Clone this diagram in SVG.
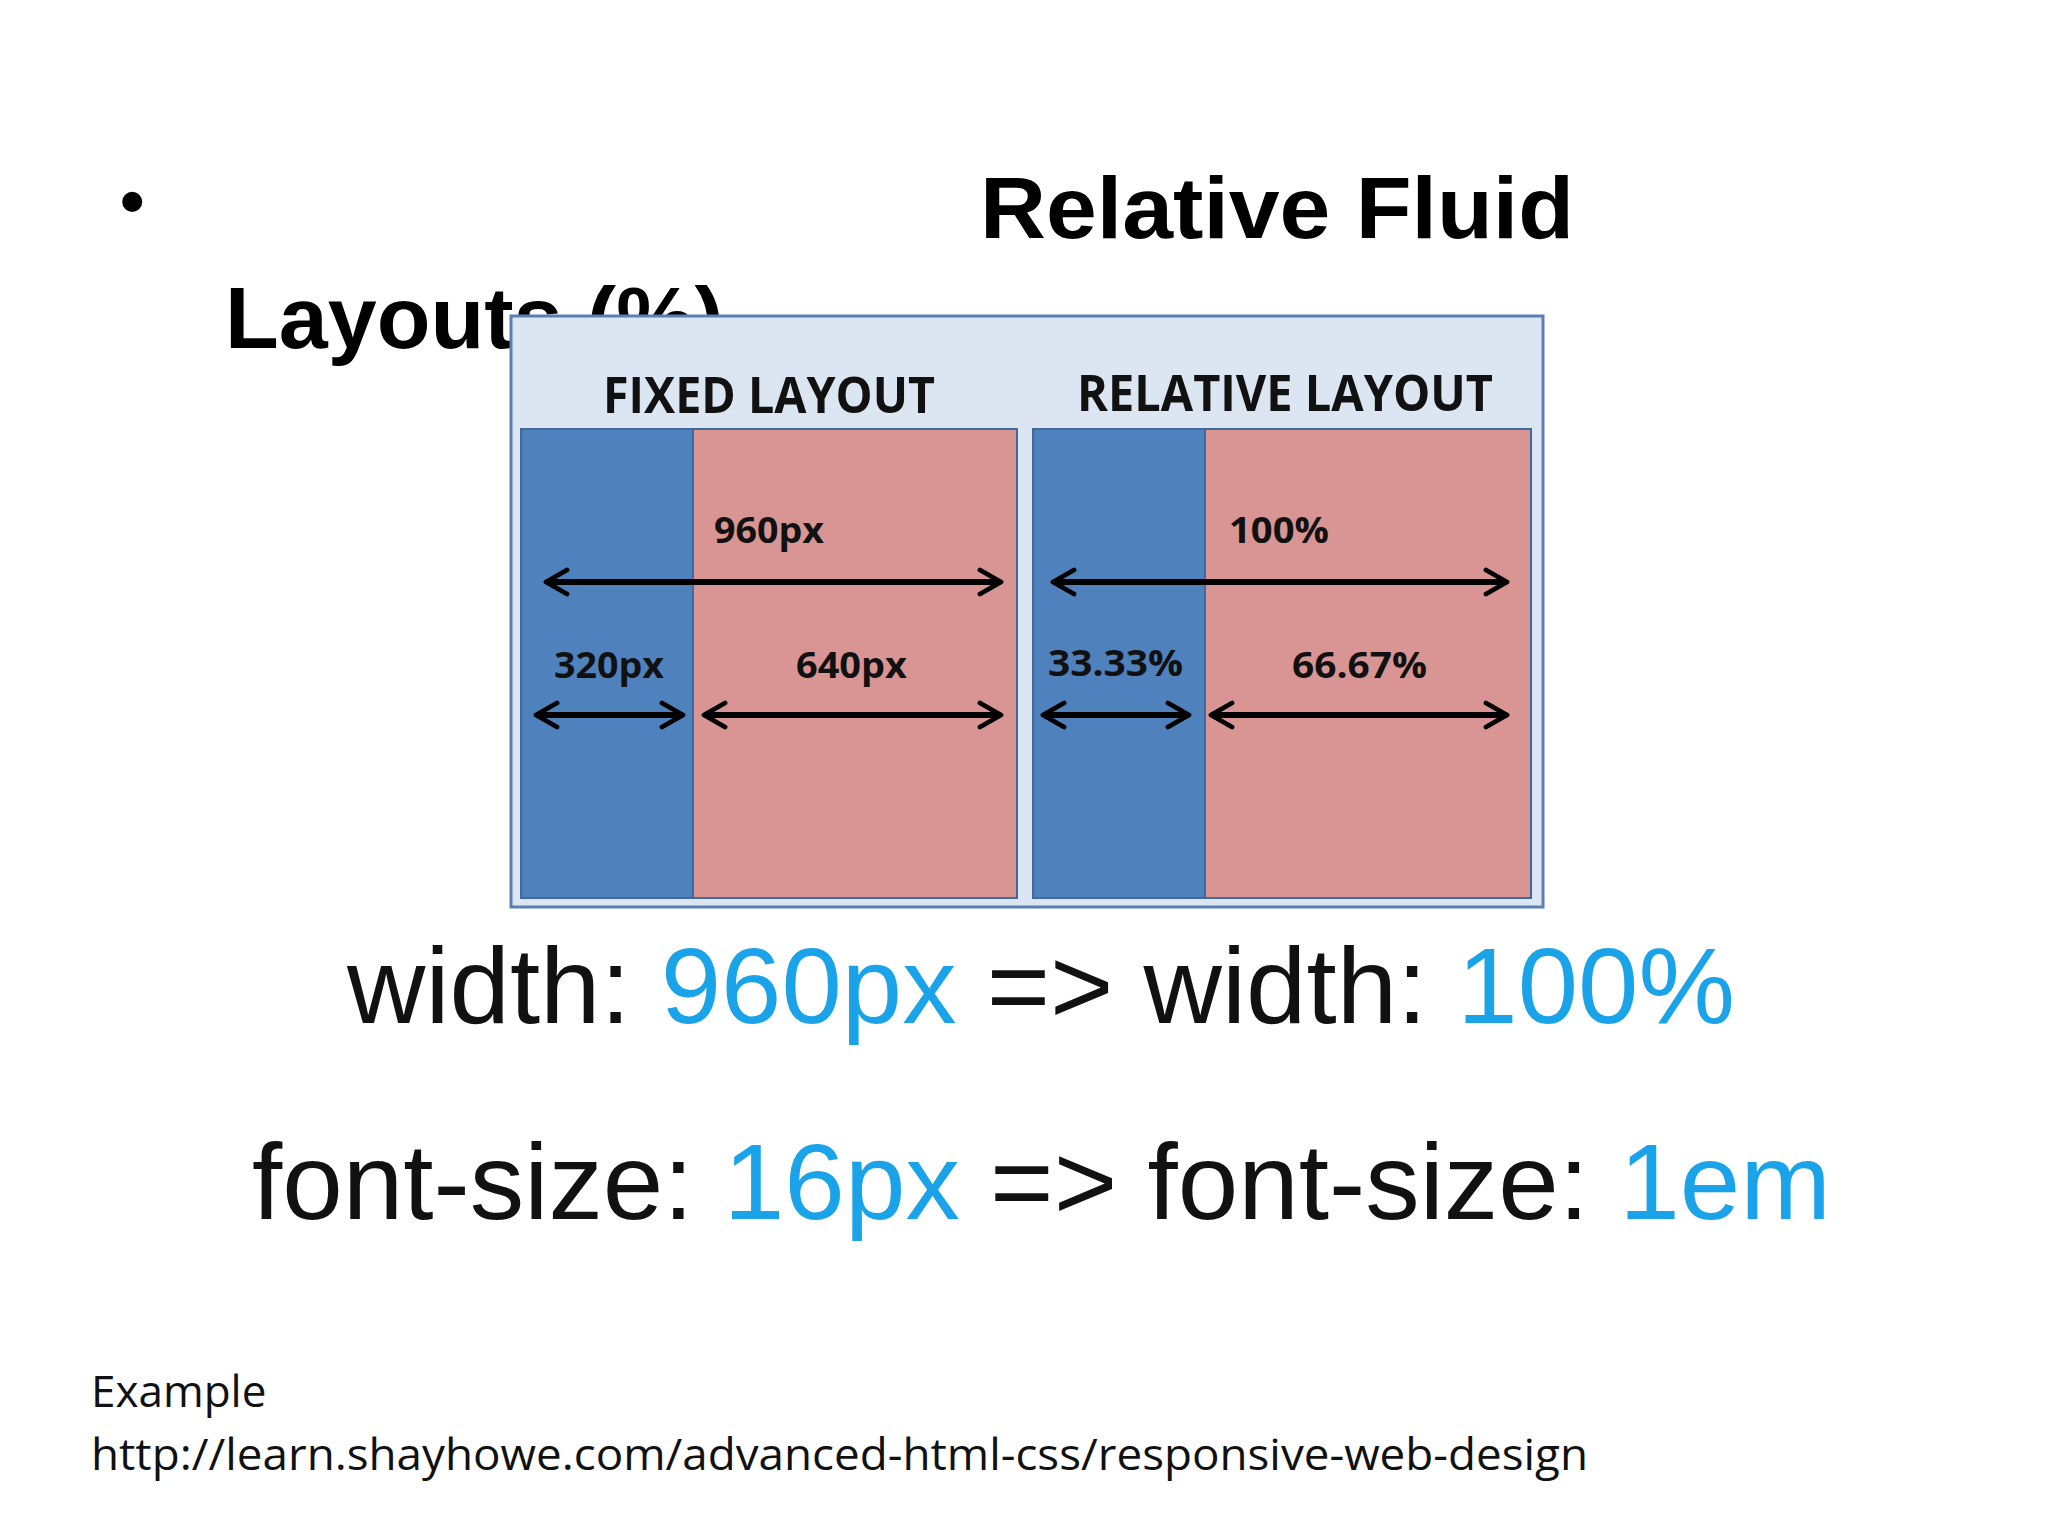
<svg xmlns="http://www.w3.org/2000/svg" width="2048" height="1536" viewBox="0 0 2048 1536">
<style>
.t{font-family:"Liberation Sans",Arial,sans-serif;font-weight:bold;fill:#000}
.n{font-family:"Open Sans","Liberation Sans",sans-serif;font-weight:bold;fill:#111}
.big{font-family:"Liberation Sans",Arial,sans-serif;font-size:108px;fill:#111}
.b{fill:#1aa3e8}
.c{font-family:"Open Sans","Liberation Sans",sans-serif;font-size:44px;fill:#111}
.a{stroke:#000;stroke-width:6;fill:none;marker-start:url(#h);marker-end:url(#h)}
.blue{fill:#4f81bd;stroke:#3f6a9e;stroke-width:2}
.red{fill:#d99594;stroke:#3f6a9e;stroke-width:2}
</style>
<defs>
<marker id="h" viewBox="0 0 10 10" refX="9" refY="5" markerWidth="5" markerHeight="5" orient="auto-start-reverse" markerUnits="strokeWidth">
<path d="M2,1 L9,5 L2,9" fill="none" stroke="#000" stroke-width="1.6" stroke-linecap="round" stroke-linejoin="round"/>
</marker>
</defs>
<rect width="2048" height="1536" fill="#fff"/>
<g id="title">
<text class="t" x="120" y="225" font-size="70">•</text>
<text class="t" x="980" y="238" font-size="88" textLength="594" lengthAdjust="spacingAndGlyphs">Relative Fluid</text>
<text class="t" x="225" y="348" font-size="88">Layouts (%)</text>
</g>
<g id="figure">
<rect x="511" y="316" width="1032" height="591" fill="#dce6f2" stroke="#5a7fb5" stroke-width="3"/>
<text class="n" x="603" y="413" font-size="50" textLength="332" lengthAdjust="spacingAndGlyphs">FIXED LAYOUT</text>
<text class="n" x="1077" y="411" font-size="50" textLength="416" lengthAdjust="spacingAndGlyphs">RELATIVE LAYOUT</text>
<rect class="blue" x="521" y="429" width="172" height="469"/>
<rect class="red" x="693" y="429" width="324" height="469"/>
<rect class="blue" x="1033" y="429" width="172" height="469"/>
<rect class="red" x="1205" y="429" width="326" height="469"/>
<text class="n" x="714" y="543" font-size="36" textLength="110" lengthAdjust="spacingAndGlyphs">960px</text>
<text class="n" x="554" y="678" font-size="36" textLength="110" lengthAdjust="spacingAndGlyphs">320px</text>
<text class="n" x="796" y="678" font-size="36" textLength="111" lengthAdjust="spacingAndGlyphs">640px</text>
<text class="n" x="1229" y="543" font-size="36" textLength="100" lengthAdjust="spacingAndGlyphs">100%</text>
<text class="n" x="1048" y="676" font-size="36" textLength="135" lengthAdjust="spacingAndGlyphs">33.33%</text>
<text class="n" x="1292" y="678" font-size="36" textLength="135" lengthAdjust="spacingAndGlyphs">66.67%</text>
</g>
<g id="connectors">
<line class="a" x1="546" y1="582" x2="1001" y2="582"/>
<line class="a" x1="536" y1="715" x2="683" y2="715"/>
<line class="a" x1="704" y1="715" x2="1001" y2="715"/>
<line class="a" x1="1053" y1="582" x2="1507" y2="582"/>
<line class="a" x1="1043" y1="715" x2="1189" y2="715"/>
<line class="a" x1="1211" y1="715" x2="1507" y2="715"/>
</g>
<g id="code">
<text class="big" x="347" y="1023" textLength="1388" lengthAdjust="spacingAndGlyphs">width: <tspan class="b">960px</tspan> =&gt; width: <tspan class="b">100%</tspan></text>
<text class="big" x="252" y="1219" textLength="1579" lengthAdjust="spacingAndGlyphs">font-size: <tspan class="b">16px</tspan> =&gt; font-size: <tspan class="b">1em</tspan></text>
</g>
<g id="caption">
<text class="c" x="91" y="1407">Example</text>
<text class="c" x="91" y="1470" textLength="1497" lengthAdjust="spacingAndGlyphs">http://learn.shayhowe.com/advanced-html-css/responsive-web-design</text>
</g>
</svg>
